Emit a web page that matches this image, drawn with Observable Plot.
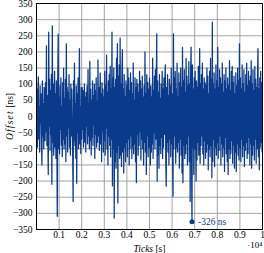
<!DOCTYPE html>
<html><head><meta charset="utf-8">
<script src="https://cdn.jsdelivr.net/npm/d3@7"></script>
<script src="https://cdn.jsdelivr.net/npm/@observablehq/plot@0.6"></script>
<style>body{margin:0;background:#fff} svg{display:block}</style>
</head><body><div id="chart"></div>
<script>
// Offset samples [ns], one every 20 ticks
const offsets = [
-40,85,-95,60,123,-70,30,-110,95,-20,70,-85,-150,110,-60,40,-100,90,15,-75,105,-45,219,-90,65,
-60,-180,261,-30,115,-105,80,-55,130,-210,281,-80,100,-120,45,140,-95,70,-130,110,-65,-309,125,255,-100,
60,-115,95,-40,120,-90,30,-125,105,-70,150,-100,55,-85,115,-140,225,-60,90,-110,75,-35,130,-95,50,
-120,100,-60,85,-20,-105,-263,110,-75,165,-90,40,-130,95,-207,70,-50,120,-100,60,210,-85,30,-115,90,
-70,90,-40,80,-95,35,100,-80,60,-110,75,-30,95,-85,145,-60,40,-100,171,-75,85,-120,50,-65,110,
-90,65,-25,100,-130,80,-55,120,-95,45,-80,175,-60,90,-105,30,135,-85,70,-140,105,-45,85,-110,60,
-75,140,-120,95,-35,190,-100,75,-150,110,-60,130,-90,155,-125,85,-70,261,-215,120,-100,150,-315,90,-140,
115,-160,180,-110,226,-268,125,-90,160,-130,243,-120,100,-155,140,207,-110,85,-175,130,-95,60,-140,110,-80,
95,-125,150,-70,120,-150,80,-100,135,-60,105,-130,70,-95,165,-115,50,-85,120,-140,90,-205,115,-55,100,
-120,75,-90,140,-45,110,-135,85,-70,125,-100,60,-150,95,-80,200,-110,70,-180,130,-60,105,-125,85,-95,
120,-75,-150,95,-110,60,-85,181,-130,80,-50,125,-100,145,-70,90,256,-200,110,-120,75,-160,130,-90,55,
-115,100,-65,140,-130,85,-95,120,-55,105,160,-140,-216,90,-80,130,-110,65,-150,115,-70,95,-125,150,-85,
70,-130,-247,256,-100,120,-60,140,-145,85,-95,165,-110,60,-80,135,-160,105,-70,150,-120,90,-175,214,-205,
110,-90,145,-130,75,-115,180,-85,125,-150,95,-60,170,-140,100,-263,130,215,-110,-326,160,-95,85,-180,120,
-100,140,-65,-200,110,-135,90,-80,155,-120,75,210,-145,100,-90,130,-60,165,-115,85,-150,120,-75,105,-130,
95,-110,150,-85,125,-165,70,-100,140,-125,180,-90,115,-190,292,-140,100,-70,135,-155,85,-95,160,-120,110,
-80,214,-130,90,-105,145,-60,120,-150,100,-85,165,-125,75,-95,130,-170,110,-65,150,-115,85,-140,120,-180,
95,-100,173,-130,80,-115,140,-75,155,-145,105,-90,125,-160,70,-110,135,-170,95,-85,150,-120,110,-135,225,
-95,120,-140,85,-70,160,-125,100,-90,145,-155,75,-105,130,-80,165,-130,95,-115,140,-65,110,-150,125,-85,
173,-160,100,-120,145,-90,80,-135,155,-70,115,-145,90,-100,130,210,-125,85,-165,120,-95,140,-80,105,-110
];
const tickStep = 20;
const xTicks = [1000,2000,3000,4000,5000,6000,7000,8000,9000,10000];
const xTickLabels = ["0.1","0.2","0.3","0.4","0.5","0.6","0.7","0.8","0.9","1"];
const yTicks = [-350,-300,-250,-200,-150,-100,-50,0,50,100,150,200,250,300,350];
const minPoint = [{tick: 6880, offset: -326, label: "-326 ns"}];
const xExponent = ["·10⁴"];

const blue = "#0a3a8a";
const data = offsets.map((v, i) => ({tick: i * tickStep, offset: v}));

const chart = Plot.plot({
  width: 264, height: 253,
  marginLeft: 36, marginRight: 2, marginTop: 3, marginBottom: 24,
  style: {fontFamily: "Liberation Serif", fontSize: "9.5px", background: "#fff", color: "#000"},
  x: {domain: [0, 10000]},
  y: {domain: [-350, 350]},
  marks: [
    Plot.gridX(xTicks, {stroke: "#999", strokeOpacity: 1, strokeWidth: 0.9}),
    Plot.gridY(yTicks, {stroke: "#999", strokeOpacity: 1, strokeWidth: 0.9}),
    Plot.lineY(data, {x: "tick", y: "offset", stroke: blue, strokeWidth: 1.25}),
    Plot.dot(minPoint, {x: "tick", y: "offset", r: 2.5, fill: blue}),
    Plot.text(minPoint, {x: "tick", y: "offset", text: "label", dx: 6, textAnchor: "start", fill: blue, fontSize: 9.5}),
    Plot.axisX(xTicks, {tickSize: 0, tickPadding: 2, tickFormat: d => xTickLabels[xTicks.indexOf(d)],
      label: "Ticks [s]", labelAnchor: "center", labelOffset: 22, labelArrow: "none"}),
    Plot.axisY(yTicks, {tickSize: 0, tickPadding: 4, label: "Offset [ns]", labelAnchor: "center", labelOffset: 30, labelArrow: "none"}),
    Plot.frame({stroke: "#000", strokeWidth: 1}),
    Plot.text(xExponent, {frameAnchor: "bottom-right", dy: 18, dx: 0, textAnchor: "end", fontSize: 9})
  ]
});
document.getElementById("chart").append(chart);

const svg = d3.select(chart.tagName === "svg" ? chart : chart.querySelector("svg"));
const xl = svg.select('g[aria-label="x-axis label"] text');
if (!xl.empty()) {
  xl.text(null).attr("font-size", "9.5px");
  xl.append("tspan").attr("font-style", "italic").text("Ticks");
  xl.append("tspan").text(" [s]");
}
const yl = svg.select('g[aria-label="y-axis label"] text');
if (!yl.empty()) {
  yl.text(null).attr("font-size", "9.5px");
  yl.append("tspan").attr("font-style", "italic").attr("letter-spacing", "1.2px").text("Offset");
  yl.append("tspan").text(" [ns]");
}
</script>
</body></html>
